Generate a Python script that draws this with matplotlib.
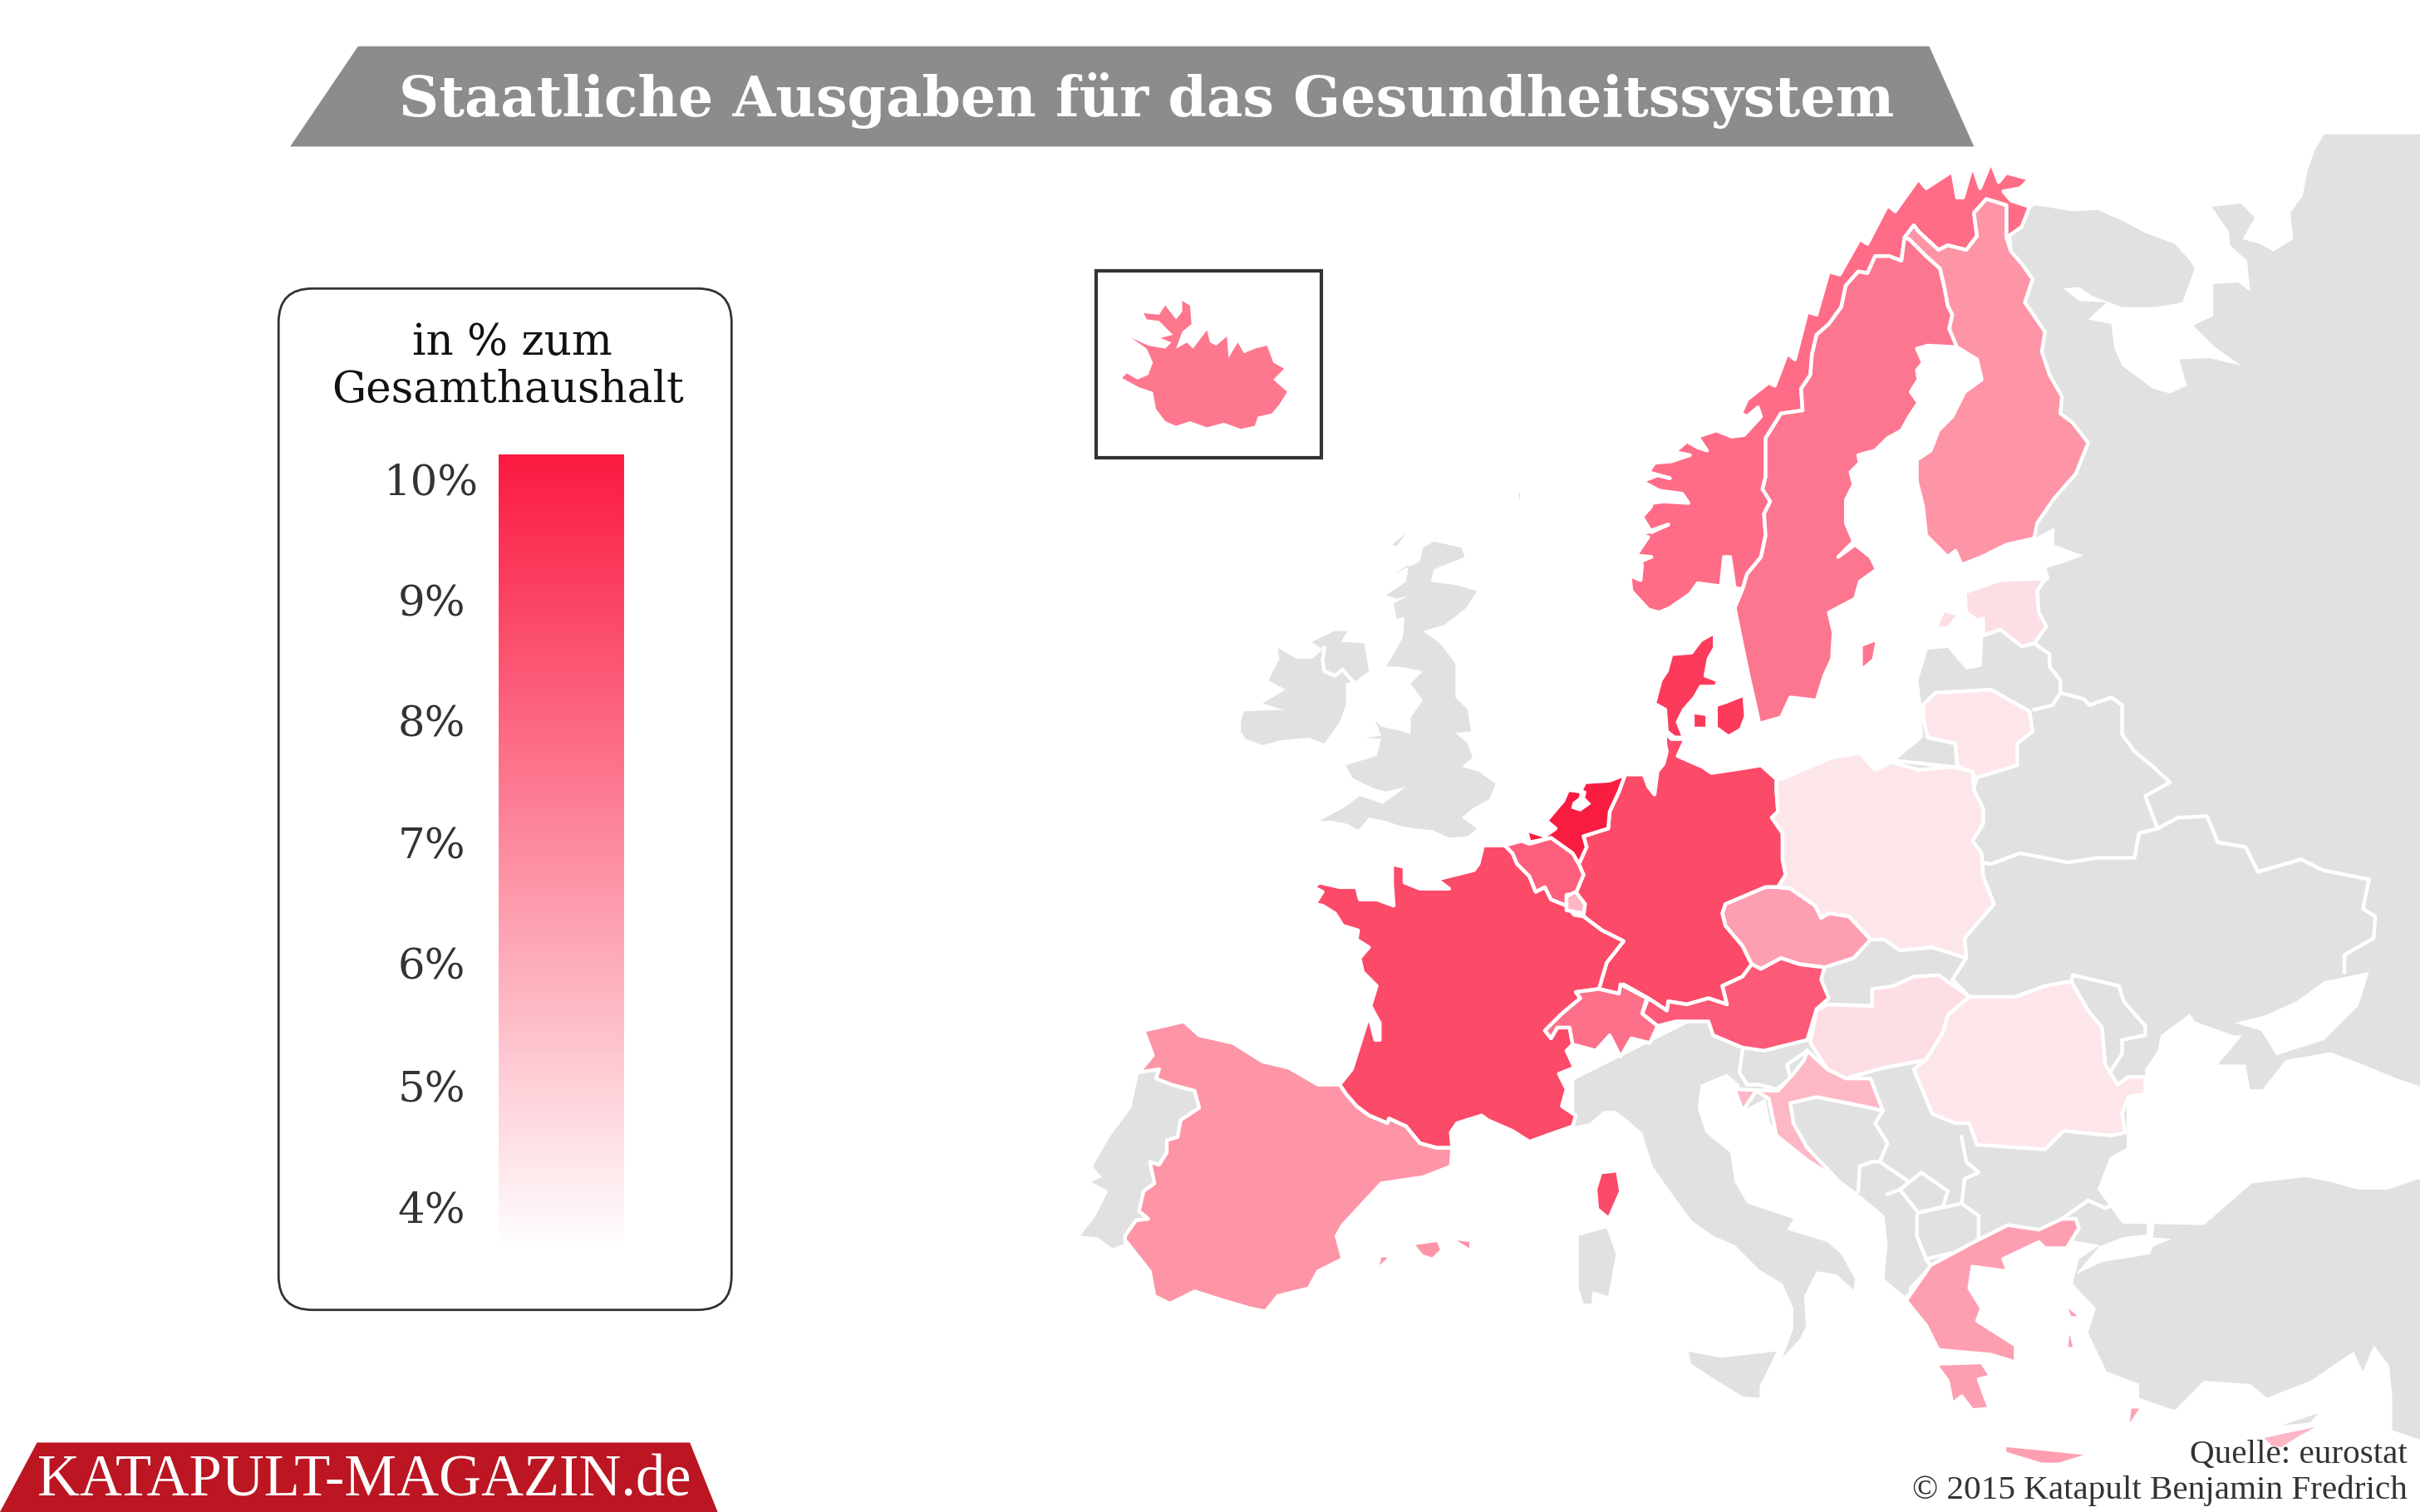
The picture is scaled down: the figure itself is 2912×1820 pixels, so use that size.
import numpy as np
import matplotlib
matplotlib.use('Agg')
import matplotlib.pyplot as plt
from matplotlib.colors import LinearSegmentedColormap
from matplotlib.patches import FancyBboxPatch, Rectangle

# Texts
TITLE = 'Staatliche Ausgaben für das Gesundheitssystem'
LEGEND_TITLE = ['in % zum', 'Gesamthaushalt']
TICK_LABELS = ['10%', '9%', '8%', '7%', '6%', '5%', '4%']
TICK_Y = [313, 392, 470, 549, 627, 707, 785]
SOURCE = ['Quelle: eurostat', '© 2015 Katapult Benjamin Fredrich']
BRAND = 'KATAPULT-MAGAZIN.de'

# Colours
GREY_LAND = '#E1E1E1'
C_FR_DE = '#FC4A69'
C_NL = '#F91C41'
C_DK = '#FB3A5C'
C_AT = '#FC5A78'
C_BE = '#FD5F7C'
C_CH = '#FD7089'
C_NO = '#FF6C87'
C_SE = '#FD768F'
C_IS = '#FD778E'
C_FI_ES = '#FD95A7'
C_CZ_GR = '#FD9FB0'
C_HR_LU = '#FDB7C5'
C_EE_HU = '#FDDEE5'
C_PL_RO = '#FDE6EA'

# Shared borders
NO_FI = [(1300, 154), (1300, 133), (1287, 129), (1279, 138), (1281, 153), (1274, 162), (1262, 159),
         (1256, 162), (1243, 150), (1240, 146), (1234, 154)]
NO_SE = [(1234, 154), (1232, 169), (1224, 166), (1215, 166), (1210, 177), (1204, 176), (1196, 185),
         (1193, 199), (1185, 210), (1177, 217), (1174, 230), (1173, 243), (1167, 252), (1168, 266),
         (1154, 268), (1144, 284), (1144, 309), (1142, 317), (1147, 325), (1143, 333), (1144, 347),
         (1141, 361), (1132, 372), (1129, 382)]
SE_FI = [(1234, 154), (1237, 155), (1248, 166), (1257, 174), (1260, 187), (1262, 198), (1265, 204),
         (1263, 213), (1268, 225)]
DE_CZ = [(1152, 575), (1144, 575), (1118, 586), (1116, 592), (1118, 600), (1129, 613), (1135, 625)]
DE_AT = [(1135, 625), (1129, 633), (1116, 639), (1119, 651), (1107, 647), (1093, 651), (1081, 649),
         (1080, 655), (1068, 647)]
DE_PL = [(1151, 505), (1151, 512), (1152, 526), (1148, 530), (1155, 540), (1155, 557), (1157, 567), (1152, 575)]
DE_CH_FR = [(1068, 647), (1052, 638), (1049, 644), (1036, 641), (1041, 624), (1052, 610), (1038, 603), (1026, 594)]
DE_BNL = [(1026, 594), (1027, 586), (1021, 579), (1026, 567), (1023, 560)]
NL_DE = [(1023, 560), (1028, 549), (1026, 542), (1042, 537), (1043, 526), (1049, 513), (1053, 502)]
FR_BE = [(975, 548), (980, 553), (983, 560), (991, 568), (995, 578), (1001, 575), (1005, 583), (1015, 587)]
FR_CH = [(1036, 641), (1021, 643), (1024, 647), (1012, 657), (1001, 668), (1005, 673), (1009, 666),
         (1017, 666), (1019, 677)]
FR_ES = [(941, 744), (931, 744), (920, 741), (911, 730), (900, 725), (899, 728), (887, 723), (879, 717),
         (872, 709), (868, 703)]
ES_PT = [(729, 806), (729, 801), (736, 791), (744, 790), (738, 785), (741, 772), (748, 767), (745, 753),
         (751, 755), (756, 747), (756, 739), (763, 737), (765, 726), (777, 718), (774, 707), (759, 703),
         (749, 699), (751, 693), (738, 695)]

# Countries with data
NORWAY = [(1068, 395), (1057, 383), (1056, 373), (1063, 376), (1064, 366), (1058, 366), (1070, 361), (1060, 360),
          (1068, 348), (1060, 348), (1072, 343), (1081, 340), (1070, 345), (1064, 335), (1070, 328), (1063, 327),
          (1078, 325), (1094, 326), (1090, 320), (1075, 318), (1064, 312), (1074, 308), (1082, 310), (1068, 306),
          (1072, 300), (1083, 299), (1095, 295), (1085, 293), (1093, 286), (1100, 290), (1106, 292), (1100, 283),
          (1112, 279), (1122, 283), (1130, 282), (1141, 270), (1139, 264), (1132, 270), (1128, 268), (1132, 259),
          (1146, 248), (1150, 250), (1158, 229), (1163, 233), (1171, 202), (1177, 204), (1185, 176), (1192, 178),
          (1205, 155), (1210, 158), (1223, 133), (1228, 137), (1243, 116), (1248, 122), (1265, 111), (1268, 128),
          (1272, 128), (1278, 107), (1283, 122), (1290, 105), (1295, 118), (1300, 112),
          (1315, 116), (1309, 122), (1298, 124), (1303, 130), (1315, 134), (1310, 147)] + NO_FI + NO_SE[1:] + \
         [(1124, 381), (1121, 361), (1117, 361), (1115, 380), (1100, 378), (1095, 385), (1082, 394), (1075, 397)]
SWEDEN = NO_SE + [(1124, 394), (1129, 419), (1133, 438), (1140, 469), (1154, 465), (1160, 452), (1177, 454),
                  (1182, 438), (1187, 427), (1188, 410), (1185, 397), (1202, 388), (1205, 377), (1216, 369),
                  (1212, 361), (1202, 353), (1191, 361), (1201, 351), (1196, 339), (1196, 324), (1201, 314),
                  (1199, 306), (1205, 300), (1204, 295), (1215, 292), (1223, 284), (1232, 279), (1237, 270),
                  (1243, 261), (1238, 254), (1243, 246), (1242, 240), (1246, 235), (1242, 226), (1249, 224),
                  (1268, 225)] + SE_FI[::-1][1:]
GOTLAND = [(1207, 419), (1215, 416), (1213, 427), (1207, 432)]
FINLAND = NO_FI + SE_FI[1:] + [(1281, 233), (1284, 246), (1273, 254), (1265, 270), (1256, 279), (1251, 292),
                               (1242, 298), (1242, 312), (1246, 328), (1248, 347), (1262, 361), (1267, 357),
                               (1271, 366), (1284, 361), (1300, 353), (1318, 349), (1320, 339), (1331, 323),
                               (1345, 307), (1353, 287), (1343, 274), (1335, 268), (1336, 257), (1328, 243),
                               (1323, 228), (1325, 215), (1312, 196), (1317, 181), (1310, 171), (1303, 163)]
ESTONIA = [(1273, 384), (1296, 376), (1325, 375), (1320, 383), (1321, 397), (1326, 406), (1318, 417),
           (1310, 419), (1296, 408), (1285, 412), (1285, 401), (1281, 402), (1274, 397)]
SAAREMAA = [(1256, 406), (1260, 397), (1267, 399), (1262, 406)]
LITHUANIA = [(1246, 457), (1254, 449), (1290, 447), (1315, 461), (1317, 474), (1307, 482), (1307, 496),
             (1281, 504), (1268, 496), (1267, 482), (1249, 478), (1246, 465)]
DENMARK = [(1111, 410), (1102, 415), (1096, 423), (1083, 424), (1080, 435), (1076, 441), (1072, 456),
           (1079, 460), (1080, 474), (1085, 478), (1091, 478), (1087, 468), (1091, 460), (1098, 452),
           (1102, 445), (1112, 445), (1113, 441), (1105, 438), (1107, 427), (1111, 420)]
FUNEN = [(1098, 463), (1105, 464), (1105, 471), (1098, 471)]
ZEALAND = [(1113, 458), (1119, 456), (1129, 452), (1130, 464), (1127, 472), (1120, 476), (1113, 471)]
GERMANY = [(1053, 502), (1065, 502), (1068, 510), (1072, 515), (1074, 500), (1078, 495), (1080, 487), (1079, 482),
           (1079, 475), (1083, 479), (1092, 479), (1087, 490), (1103, 497), (1109, 501), (1129, 498),
           (1141, 496)] + DE_PL + DE_CZ[1:] + DE_AT[1:] + DE_CH_FR[1:] + DE_BNL[1:] + NL_DE[1:]
NETHERLANDS = NL_DE + [(1043, 506), (1027, 507), (1024, 513), (1016, 512), (1013, 519), (1002, 532), (1008, 537),
                       (1001, 542), (989, 538), (991, 546), (1005, 543), (1019, 553)]
IJSSELMEER = [(1024, 511), (1028, 513), (1027, 517), (1031, 521), (1024, 526), (1018, 524), (1019, 520), (1023, 517)]
BELGIUM = FR_BE + [(1015, 580), (1021, 579), (1026, 567), (1023, 560), (1019, 553), (1005, 543), (991, 547), (986, 545)]
LUXEMBOURG = [(1021, 578), (1015, 581), (1015, 590), (1026, 592), (1027, 586)]
FRANCE = [(961, 548)] + FR_BE + [(1020, 593), (1026, 594)] + DE_CH_FR[::-1][1:4] + [(1041, 624)] + FR_CH + \
         [(1015, 681), (1020, 692), (1010, 696), (1015, 706), (1012, 717), (1021, 723), (1019, 730), (1002, 736),
          (991, 740), (980, 733), (964, 726), (960, 723), (944, 728), (940, 734)] + FR_ES + \
         [(876, 693), (881, 677), (887, 658), (891, 674), (894, 674), (894, 663), (888, 652), (892, 639),
          (883, 630), (881, 621), (887, 614), (879, 609), (880, 603), (870, 600), (865, 592), (857, 587),
          (852, 586), (857, 578), (851, 575), (855, 572), (868, 575), (879, 575), (881, 583), (892, 583),
          (903, 587), (902, 573), (902, 560), (910, 562), (910, 572), (920, 576), (939, 576), (931, 570),
          (955, 564), (958, 560)]
CORSICA = [(1038, 761), (1047, 760), (1049, 772), (1042, 788), (1036, 783), (1035, 771)]
SWITZERLAND = [(1036, 641), (1049, 644), (1050, 638), (1067, 647), (1064, 657), (1074, 665), (1069, 676),
               (1057, 673), (1050, 685), (1043, 671), (1034, 681), (1019, 677), (1017, 666), (1009, 666),
               (1005, 673), (1001, 668), (1012, 657), (1024, 647), (1021, 643)]
SPAIN = [(741, 668), (767, 662), (777, 671), (799, 676), (818, 688), (835, 692), (854, 703)] + FR_ES[::-1] + \
        [(940, 756), (922, 763), (895, 767), (870, 794), (866, 801), (870, 816), (854, 824), (848, 835), (828, 840),
         (820, 850), (810, 848), (793, 843), (774, 837), (758, 845), (748, 840), (745, 824), (730, 805)] + ES_PT + \
        [(747, 684)]
MALLORCA = [(917, 807), (931, 805), (933, 810), (928, 815), (922, 813)]
MENORCA = [(944, 804), (952, 805), (952, 809)]
IBIZA = [(895, 815), (899, 815), (894, 820)]
POLAND = [(1154, 505), (1187, 491), (1205, 488), (1215, 499), (1226, 494), (1243, 499), (1265, 497), (1278, 500),
          (1279, 512), (1285, 524), (1285, 534), (1278, 545), (1284, 553), (1285, 568), (1292, 586), (1273, 608),
          (1274, 621), (1252, 614), (1231, 616), (1221, 609), (1212, 609), (1198, 594), (1185, 592), (1180, 595),
          (1176, 587), (1160, 576)] + DE_PL[::-1]
CZECHIA = DE_CZ + [(1141, 628), (1154, 621), (1166, 625), (1182, 627), (1201, 621), (1212, 609), (1198, 594),
                   (1185, 592), (1180, 595), (1176, 587), (1160, 576)]
AUSTRIA = [(1135, 625), (1141, 628), (1154, 621), (1166, 625), (1182, 627), (1180, 635), (1185, 647), (1177, 654),
           (1171, 674), (1143, 681), (1129, 679), (1110, 671), (1107, 662), (1086, 662), (1074, 665), (1064, 657),
           (1068, 647)] + DE_AT[::-1][:-1]
HUNGARY = [(1184, 651), (1213, 652), (1213, 641), (1227, 639), (1240, 633), (1256, 632), (1276, 646), (1262, 658),
           (1259, 669), (1248, 687), (1221, 692), (1196, 699), (1184, 693), (1173, 676), (1177, 655)]
ROMANIA = [(1276, 646), (1306, 646), (1325, 639), (1342, 636), (1353, 655), (1362, 666), (1364, 690), (1372, 703),
           (1379, 698), (1390, 698), (1390, 709), (1379, 711), (1375, 722), (1377, 734), (1368, 736), (1337, 733),
           (1325, 745), (1281, 742), (1276, 728), (1267, 728), (1252, 722), (1240, 693), (1248, 687), (1259, 669),
           (1262, 658)]
CROATIA = [(1171, 681), (1184, 693), (1196, 699), (1212, 699), (1220, 720), (1212, 718), (1177, 711), (1160, 715),
           (1162, 728), (1171, 744), (1190, 764), (1171, 752), (1151, 736), (1146, 712), (1138, 707), (1129, 720),
           (1124, 706), (1152, 707), (1162, 696), (1169, 687)]
GREECE = [(1336, 790), (1345, 790), (1347, 796), (1339, 809), (1325, 809), (1321, 805), (1298, 816), (1301, 824),
          (1278, 821), (1276, 835), (1284, 848), (1281, 856), (1306, 872), (1306, 883), (1290, 878), (1256, 875),
          (1248, 859), (1235, 843), (1251, 820), (1281, 804), (1301, 794), (1321, 797)]
PELOPONNESE = [(1254, 884), (1284, 883), (1290, 892), (1282, 894), (1289, 913), (1278, 914), (1271, 905),
               (1265, 910), (1262, 895)]
CRETE = [(1300, 938), (1321, 940), (1350, 943), (1334, 948), (1323, 948), (1300, 941)]
RHODES = [(1386, 913), (1380, 922), (1381, 913)]
LESBOS = [(1340, 848), (1346, 853), (1342, 853)]
CHIOS = [(1341, 865), (1343, 873), (1340, 873)]
CYPRUS = [(1467, 932), (1500, 925), (1491, 930), (1478, 938), (1472, 937)]
ICELAND = [(727, 245), (730, 242), (737, 246), (744, 243), (747, 235), (743, 226), (733, 219), (744, 224), (755, 226),
           (759, 222), (752, 219), (760, 217), (751, 208), (743, 207), (741, 203), (751, 204), (755, 198), (762, 207),
           (766, 202), (766, 195), (771, 198), (772, 210), (766, 215), (762, 226), (769, 222), (773, 226), (782, 214),
           (784, 222), (788, 224), (795, 218), (796, 232), (802, 222), (806, 229), (813, 226), (821, 224), (825, 235),
           (832, 239), (825, 246), (834, 254), (829, 262), (824, 268), (815, 270), (813, 276), (804, 278), (793, 274),
           (782, 277), (771, 273), (762, 276), (755, 273), (749, 265), (747, 254), (738, 251)]

# Grey land without data
EAST_LAND = [(1568, 87), (1506, 87), (1500, 97), (1495, 111), (1492, 127), (1484, 138), (1486, 155), (1473, 163),
             (1464, 158), (1453, 155), (1461, 141), (1452, 132), (1433, 134), (1444, 150), (1445, 159), (1456, 169),
             (1458, 189), (1450, 183), (1434, 184), (1434, 205), (1421, 211), (1434, 224), (1452, 237), (1431, 232),
             (1412, 233), (1417, 250), (1406, 255), (1395, 252), (1387, 246), (1375, 237), (1370, 226), (1368, 210),
             (1353, 207), (1365, 196), (1347, 195), (1337, 187), (1347, 186), (1356, 192), (1375, 199), (1397, 199),
             (1414, 196), (1422, 174), (1419, 169), (1409, 158), (1390, 151), (1375, 143), (1359, 136), (1343, 137),
             (1325, 134), (1318, 133), (1303, 150), (1318, 349), (1331, 342), (1331, 353), (1350, 360), (1337, 365),
             (1326, 368), (1328, 375), (1300, 400), (1285, 412), (1284, 432), (1274, 434), (1262, 420), (1249, 421),
             (1243, 441), (1245, 457), (1246, 478), (1228, 493), (1180, 530), (1100, 660), (1020, 700), (1020, 730),
             (1030, 728), (1039, 720), (1047, 720), (1057, 728), (1064, 734), (1067, 744), (1071, 756), (1080, 769),
             (1096, 791), (1110, 801), (1124, 807), (1140, 823), (1155, 832), (1162, 848), (1162, 861), (1155, 880),
             (1166, 868), (1170, 860), (1169, 840), (1177, 824), (1190, 826), (1201, 836), (1202, 829), (1193, 813),
             (1184, 805), (1158, 797), (1162, 790), (1132, 780), (1124, 766), (1121, 747), (1105, 734), (1100, 718),
             (1102, 703), (1119, 696), (1127, 703), (1129, 720), (1144, 712), (1147, 728), (1162, 744), (1180, 756),
             (1202, 772), (1221, 788), (1223, 807), (1221, 829), (1234, 840), (1245, 830), (1262, 815), (1300, 800),
             (1343, 795), (1343, 804), (1361, 807), (1347, 816), (1343, 832), (1358, 848), (1353, 864), (1365, 889),
             (1386, 897), (1386, 906), (1409, 914), (1428, 895), (1458, 897), (1469, 906), (1497, 895), (1525, 876),
             (1531, 889), (1538, 872), (1548, 885), (1550, 905), (1550, 927), (1568, 933)]
PORTUGAL = [(738, 695), (733, 718), (719, 737), (708, 756), (714, 763), (707, 766), (718, 772), (710, 788), (700, 801),
            (711, 802), (721, 809), (729, 806)] + ES_PT[1:]
BRITAIN = [(929, 351), (947, 355), (949, 361), (929, 369), (927, 377), (942, 379), (957, 383), (950, 394), (936, 405),
           (922, 409), (933, 417), (943, 430), (943, 452), (951, 460), (953, 474), (943, 475), (951, 482), (954, 491),
           (947, 497), (958, 500), (969, 508), (965, 518), (954, 524), (947, 530), (957, 537), (951, 542), (939, 543),
           (928, 538), (917, 537), (906, 535), (898, 532), (887, 530), (880, 538), (873, 534), (863, 532), (855, 532),
           (870, 524), (881, 516), (896, 521), (911, 510), (898, 513), (890, 511), (876, 504), (872, 496), (892, 490),
           (895, 479), (885, 478), (895, 477), (891, 467), (895, 471), (909, 474), (914, 476), (914, 465), (922, 454),
           (914, 443), (922, 435), (906, 432), (898, 432), (903, 424), (909, 413), (910, 400), (905, 401), (903, 391),
           (913, 386), (905, 388), (898, 386), (911, 377), (913, 366), (903, 372), (920, 364), (922, 355)]
HEBRIDES = [(902, 353), (911, 346), (905, 354)]
FAROE = [(984, 320), (985, 320), (985, 325)]
IRELAND = [(804, 468), (806, 461), (832, 460), (818, 456), (833, 447), (822, 441), (829, 427), (828, 420), (840, 427),
           (850, 427), (857, 421), (850, 416), (865, 409), (873, 409), (869, 416), (884, 417), (887, 435), (879, 441),
           (872, 443), (872, 457), (868, 468), (858, 482), (848, 478), (829, 480), (818, 483), (807, 479), (804, 474)]
SICILY = [(1094, 876), (1115, 880), (1151, 876), (1140, 899), (1140, 906), (1129, 905), (1108, 892), (1096, 884)]
SARDINIA = [(1023, 801), (1041, 796), (1047, 813), (1042, 840), (1032, 837), (1031, 845), (1026, 845), (1023, 835)]
N_CYPRUS = [(1478, 924), (1502, 916), (1497, 922)]

# White seas on top of the grey land
BLACK_SEA = [(1390, 693), (1398, 681), (1400, 671), (1419, 657), (1422, 662), (1447, 671), (1453, 671), (1437, 690),
             (1455, 690), (1458, 706), (1466, 706), (1481, 687), (1510, 682), (1531, 690), (1553, 699), (1568, 704),
             (1568, 764), (1547, 771), (1528, 771), (1510, 766), (1494, 763), (1459, 767), (1428, 794), (1375, 793),
             (1368, 783), (1359, 771), (1367, 750), (1378, 744), (1378, 709), (1390, 706)]
AZOV = [(1448, 663), (1468, 658), (1488, 649), (1506, 636), (1535, 630), (1528, 652), (1506, 674), (1475, 684), (1465, 668)]
MARMARA = [(1345, 826), (1360, 808), (1375, 802), (1391, 800), (1391, 793), (1396, 793), (1395, 802), (1407, 803),
           (1395, 808), (1393, 813), (1362, 818)]

# White border lines on the grey land
GREY_BORDERS = [
    [(1318, 417), (1328, 424), (1328, 432), (1335, 441), (1335, 449), (1330, 457), (1318, 460)],
    [(1335, 449), (1350, 453), (1354, 457), (1368, 452), (1375, 457), (1375, 476), (1383, 487), (1394, 496), (1406, 507),
     (1390, 516), (1398, 537)],
    [(1398, 537), (1386, 540), (1383, 556), (1359, 556), (1340, 559), (1309, 553), (1290, 560), (1284, 559)],
    [(1398, 537), (1411, 530), (1430, 529), (1437, 546), (1455, 549), (1463, 565), (1491, 557), (1505, 564), (1535, 570),
     (1531, 589), (1539, 594), (1538, 608), (1519, 619), (1519, 630)],
    [(1274, 621), (1265, 635), (1276, 646)],
    [(1342, 636), (1343, 632), (1373, 639), (1376, 649), (1390, 665), (1390, 671), (1375, 674), (1375, 683), (1367, 695)],
    [(1220, 720), (1215, 728), (1223, 741), (1218, 753), (1237, 766)],
    [(1204, 772), (1205, 756), (1213, 753), (1218, 753)],
    [(1231, 771), (1245, 760), (1262, 772), (1259, 782), (1243, 786), (1231, 771)],
    [(1223, 774), (1231, 771)],
    [(1242, 788), (1242, 801), (1248, 816), (1251, 821), (1238, 835), (1238, 840)],
    [(1243, 786), (1271, 780), (1282, 788), (1282, 802), (1278, 809), (1248, 816)],
    [(1271, 737), (1274, 753), (1282, 760), (1273, 764), (1271, 780)],
    [(1336, 790), (1353, 778), (1364, 783), (1371, 780)],
    [(1129, 681), (1127, 695), (1132, 703), (1140, 703), (1151, 706), (1160, 699), (1158, 690), (1171, 681)],
    [(858, 420), (857, 428), (858, 435), (865, 438), (870, 434), (876, 441)],
    [(1281, 503), (1279, 511)],
    [(1228, 493), (1265, 497)],
]

TITLE_BANNER = [(188, 95), (232, 30), (1250, 30), (1279, 95)]
BRAND_BANNER = [(0, 980), (24, 935), (447, 935), (465, 980)]

# Gradient of the legend, bottom to top
GRADIENT_VALUES = [4, 10]
GRADIENT_COLORS = ['#FFFFFF', '#FB1A42']

plt.rcParams['font.family'] = ['DejaVu Serif']
fig = plt.figure(figsize=(14.56, 9.1), dpi=200, facecolor='white')
ax = fig.add_axes([0, 0, 1, 1])
ax.set_xlim(0, 1568)
ax.set_ylim(980, 0)
ax.axis('off')


def shape(points, color, edge=None, lw=1.6, z=2):
    xs, ys = zip(*points)
    ax.fill(xs, ys, facecolor=color, edgecolor=edge if edge else 'none', linewidth=lw if edge else 0,
            joinstyle='round', zorder=z)


# Grey land and seas
for land in [EAST_LAND, PORTUGAL, BRITAIN, HEBRIDES, FAROE, IRELAND, SICILY, SARDINIA, N_CYPRUS]:
    shape(land, GREY_LAND, z=1)
for sea in [BLACK_SEA, AZOV, MARMARA]:
    shape(sea, 'white', z=1.5)
for line in GREY_BORDERS:
    xs, ys = zip(*line)
    ax.plot(xs, ys, color='white', lw=1.6, solid_joinstyle='round', zorder=1.8)

# Countries with a value
countries = [
    (NORWAY, C_NO), (SWEDEN, C_SE), (FINLAND, C_FI_ES), (ESTONIA, C_EE_HU),
    (LITHUANIA, C_PL_RO), (GERMANY, C_FR_DE), (DENMARK, C_DK),
    (POLAND, C_PL_RO), (CZECHIA, C_CZ_GR), (AUSTRIA, C_AT), (HUNGARY, C_EE_HU), (ROMANIA, C_PL_RO),
    (CROATIA, C_HR_LU), (FRANCE, C_FR_DE), (SWITZERLAND, C_CH), (BELGIUM, C_BE),
    (LUXEMBOURG, C_HR_LU), (NETHERLANDS, C_NL), (SPAIN, C_FI_ES), (GREECE, C_CZ_GR), (PELOPONNESE, C_CZ_GR),
]
for points, color in countries:
    shape(points, color, edge='white')
islands = [
    (GOTLAND, C_SE), (SAAREMAA, C_EE_HU), (FUNEN, C_DK), (ZEALAND, C_DK), (CORSICA, C_FR_DE), (MALLORCA, C_FI_ES),
    (MENORCA, C_FI_ES), (IBIZA, C_FI_ES), (CRETE, C_CZ_GR), (RHODES, C_CZ_GR), (LESBOS, C_CZ_GR), (CHIOS, C_CZ_GR),
    (CYPRUS, C_HR_LU),
]
for points, color in islands:
    shape(points, color)
shape(IJSSELMEER, 'white', z=3)

# Iceland inset
ax.add_patch(Rectangle((710, 175.5), 146, 121, facecolor='white', edgecolor='#333333', lw=1.5, zorder=3))
shape(ICELAND, C_IS, z=4)

# Title
shape(TITLE_BANNER, '#8C8C8C', z=5)
ax.text(743, 65, TITLE, color='white', fontsize=24, fontweight='bold', ha='center', va='center', zorder=6)

# Legend
ax.add_patch(FancyBboxPatch((202.5, 209), 249.5, 618, boxstyle='round,pad=22,rounding_size=22',
                            facecolor='white', edgecolor='#333333', lw=1.0, zorder=3))
ax.text(332, 222, LEGEND_TITLE[0], fontsize=18.6, color='#111111', ha='center', va='center', zorder=4)
ax.text(329, 253, LEGEND_TITLE[1], fontsize=18.6, color='#111111', ha='center', va='center', zorder=4)
cmap = LinearSegmentedColormap.from_list('share', GRADIENT_COLORS)
ramp = np.linspace(GRADIENT_VALUES[1], GRADIENT_VALUES[0], 256).reshape(-1, 1)
ax.imshow(ramp, cmap=cmap, vmin=GRADIENT_VALUES[0], vmax=GRADIENT_VALUES[1], extent=(323, 404, 810, 295),
          aspect='auto', zorder=4)
ax.set_xlim(0, 1568)
ax.set_ylim(980, 0)
for label, y in zip(TICK_LABELS, TICK_Y):
    ax.text(279.5, y, label, fontsize=18.5, color='#333333', ha='center', va='center', zorder=4)

# Source and brand
ax.text(1560, 943, SOURCE[0], fontsize=14.8, color='#333333', family='Liberation Serif', ha='right', va='center', zorder=6)
ax.text(1560, 966, SOURCE[1], fontsize=14.8, color='#333333', family='Liberation Serif', ha='right', va='center', zorder=6)
shape(BRAND_BANNER, '#BB1622', z=5)
ax.text(236, 960, BRAND, color='white', fontsize=25.4, family='Liberation Serif', ha='center', va='center', zorder=6)

fig.savefig('out.png', dpi=200)
